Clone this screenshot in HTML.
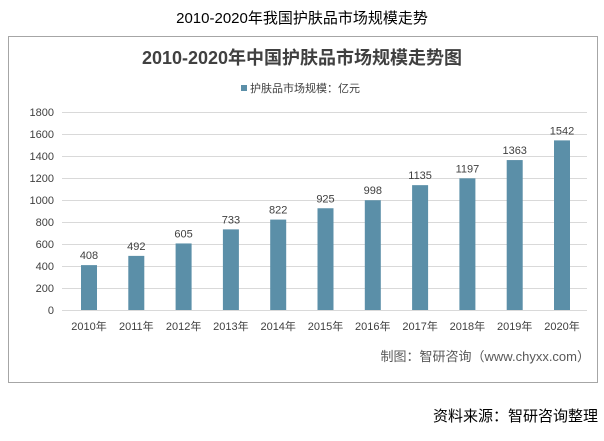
<!DOCTYPE html>
<html><head><meta charset="utf-8"><style>
body{margin:0;background:#fff;width:604px;height:436px;overflow:hidden;font-family:"Liberation Sans","Noto Sans CJK SC",sans-serif}
</style></head><body>
<svg width="604" height="436" xmlns="http://www.w3.org/2000/svg" font-family="Liberation Sans, Noto Sans CJK SC, sans-serif">
<text x="302" y="23" text-anchor="middle" font-size="15" fill="#000">2010-2020年我国护肤品市场规模走势</text>
<rect x="8.5" y="36.5" width="589" height="346" fill="#fff" stroke="#a6a6a6"/>
<text x="302" y="64" text-anchor="middle" font-size="18" font-weight="bold" fill="#404040">2010-2020年中国护肤品市场规模走势图</text>
<rect x="241" y="85" width="6" height="6" fill="#5b8fa8"/>
<text x="250" y="92" font-size="11" fill="#404040">护肤品市场规模：亿元</text>
<g stroke="#d9d9d9" stroke-width="1">
<line x1="62" x2="587" y1="112.5" y2="112.5"/><line x1="62" x2="587" y1="134.5" y2="134.5"/><line x1="62" x2="587" y1="156.5" y2="156.5"/><line x1="62" x2="587" y1="178.5" y2="178.5"/><line x1="62" x2="587" y1="200.5" y2="200.5"/><line x1="62" x2="587" y1="222.5" y2="222.5"/><line x1="62" x2="587" y1="244.5" y2="244.5"/><line x1="62" x2="587" y1="266.5" y2="266.5"/><line x1="62" x2="587" y1="288.5" y2="288.5"/><line x1="62" x2="587" y1="310.5" y2="310.5"/>
</g>
<g font-size="11" fill="#404040" text-anchor="end">
<text x="54" y="116">1800</text><text x="54" y="138">1600</text><text x="54" y="160">1400</text><text x="54" y="182">1200</text><text x="54" y="204">1000</text><text x="54" y="226">800</text><text x="54" y="248">600</text><text x="54" y="270">400</text><text x="54" y="292">200</text><text x="54" y="314">0</text>
</g>
<g fill="#5b8fa8" id="bars"></g>
<g font-size="11" fill="#404040" text-anchor="middle" id="lbl"></g>
<text x="590" y="361" text-anchor="end" font-size="13" fill="#595959">制图：智研咨询（www.chyxx.com）</text>
<text x="598" y="421" text-anchor="end" font-size="15" fill="#000">资料来源：智研咨询整理</text>
<script>
var v=[408,492,605,733,822,925,998,1135,1197,1363,1542];
var b=document.getElementById('bars'),l=document.getElementById('lbl'),ns='http://www.w3.org/2000/svg';
v.forEach(function(d,i){var cx=89+i*47.3,h=d*0.11,y=310-h;
var r=document.createElementNS(ns,'rect');r.setAttribute('x',cx-8);r.setAttribute('y',y);r.setAttribute('width',16);r.setAttribute('height',h);b.appendChild(r);
var t=document.createElementNS(ns,'text');t.setAttribute('x',cx);t.setAttribute('y',y-6);t.textContent=d;l.appendChild(t);
var t2=document.createElementNS(ns,'text');t2.setAttribute('x',cx);t2.setAttribute('y',330);t2.textContent=(2010+i)+'年';l.appendChild(t2);});
</script>
</svg>
</body></html>
